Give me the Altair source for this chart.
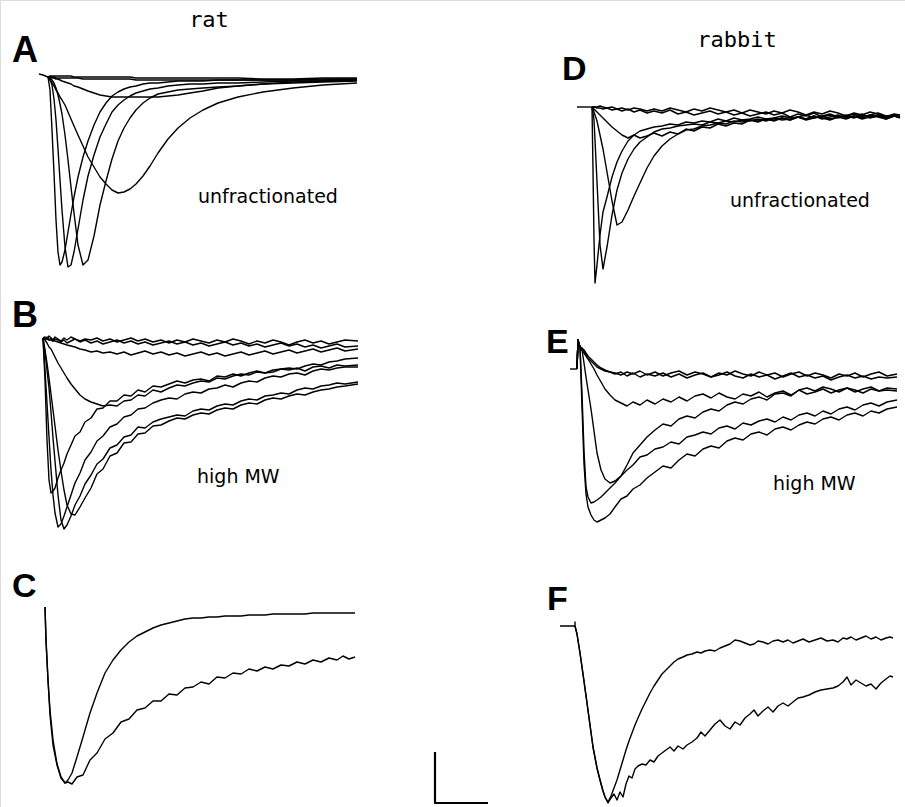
import altair as alt
import pandas as pd

# ---------------- Panel A (rat, unfractionated) ----------------
A_time = [0, 2, 4, 6, 8, 10, 12, 14, 17, 20, 23, 26, 30, 35, 40, 46, 52, 58, 64, 70,
          76, 82, 88, 95, 102, 110, 120, 130, 142, 155, 170, 190, 215, 245, 275, 309]
A1 = [0, -13, -53, -96, -143, -175, -188, -185, -173, -155, -137, -120, -100, -80, -64, -48, -35, -26, -19, -15,
      -12, -10, -9, -7, -6, -6, -5, -4, -4, -4, -3, -3, -3, -3, -2, -2]
A2 = [0, -2, -8, -22, -43, -72, -103, -133, -170, -190, -188, -175, -152, -123, -99, -78, -60, -47, -35, -28,
      -23, -19, -16, -14, -12, -11, -9, -8, -7, -7, -6, -6, -5, -4, -4, -3]
A3 = [0, -1, -3, -6, -11, -18, -27, -37, -58, -83, -110, -136, -168, -188, -183, -159, -128, -104, -82, -64,
      -51, -41, -33, -26, -21, -17, -15, -13, -12, -11, -10, -9, -7, -5, -4, -3]
A4 = [0, -3, -6, -9, -13, -16, -20, -23, -28, -35, -42, -49, -58, -69, -80, -90, -100, -107, -113, -116,
      -115, -112, -107, -99, -89, -76, -62, -51, -41, -33, -26, -20, -15, -11, -8, -6]
A5 = [0, 0, -1, -1, -2, -2, -3, -4, -5, -6, -7, -9, -10, -12, -14, -16, -18, -19, -20, -20,
      -20, -20, -20, -20, -20, -20, -19, -18, -16, -14, -11, -9, -7, -6, -5, -4]
A6 = [0, 0, 0, 0, -1, -1, -1, -1, -1, -1, -1, -1, -1, -2, -2, -2, -2, -2, -2, -2,
      -2, -2, -3, -3, -3, -3, -3, -3, -3, -3, -3, -3, -3, -3, -3, -2]
A7 = [0, 1, 1, 1, 1, 1, 1, 1, 1, 1, 1, 0, 0, 0, 0, 0, 0, 0, 0, 0,
      0, 0, -1, -1, -1, -1, -1, -1, -1, -1, -1, -1, -2, -2, -1, -1]
A_pre_t = [-9, -5, 0]
A_pre_v = [3, 2, 0]

# ---------------- Panel B (rat, high MW) ----------------
B_time = [0, 2, 4, 6, 8, 10, 12, 15, 18, 21, 24, 28, 32, 37, 42, 48, 54, 60, 67, 74,
          81, 88, 95, 102, 110, 118, 126, 134, 142, 150, 158, 166, 174, 182, 190, 198, 206, 214, 222, 230,
          238, 246, 254, 262, 270, 278, 286, 294, 302, 315]
B1 = [0, -42, -102, -142, -155, -153, -150, -140, -132, -125, -116, -107, -98, -94, -84, -80, -71, -70, -63, -63,
      -57, -58, -52, -54, -48, -49, -46, -43, -45, -42, -41, -43, -38, -39, -36, -38, -35, -33, -35, -34,
      -31, -32, -30, -33, -29, -28, -30, -27, -28, -27]
B2 = [0, -32, -65, -99, -132, -157, -175, -189, -186, -178, -169, -157, -145, -135, -122, -114, -103, -98, -89, -86,
      -79, -77, -71, -70, -65, -62, -60, -61, -56, -54, -55, -51, -50, -47, -49, -45, -43, -44, -40, -38,
      -39, -36, -35, -37, -33, -31, -32, -30, -29, -29]
B3 = [0, -14, -32, -50, -74, -100, -123, -157, -182, -191, -187, -178, -167, -158, -146, -137, -126, -121, -110, -107,
      -99, -97, -89, -90, -84, -81, -79, -77, -78, -73, -71, -72, -68, -66, -67, -63, -61, -62, -58, -57,
      -55, -56, -52, -50, -51, -48, -47, -45, -46, -44]
B4 = [0, -12, -25, -40, -56, -72, -88, -112, -133, -152, -167, -176, -177, -169, -160, -150, -136, -131, -118, -115,
      -105, -104, -96, -95, -88, -87, -83, -80, -81, -77, -75, -76, -72, -70, -71, -67, -65, -66, -62, -60,
      -61, -58, -56, -57, -54, -52, -51, -49, -48, -46]
B5 = [0, -2, -5, -9, -11, -15, -19, -25, -30, -35, -40, -46, -51, -57, -61, -64, -66, -68, -67, -68,
      -63, -62, -57, -58, -52, -54, -50, -47, -48, -45, -43, -44, -40, -41, -38, -36, -37, -34, -35, -32,
      -31, -30, -31, -28, -26, -27, -24, -23, -21, -20]
B6 = [0, 1, -1, 2, 0, -2, 1, -1, -3, 0, -2, 1, -1, -3, -1, -2, 0, -3, -1, -4,
      -2, 0, -3, -1, -4, -2, -5, -2, -4, -1, -3, -5, -2, -4, -1, -3, -6, -3, -5, -2,
      -4, -7, -4, -2, -5, -3, -6, -4, -2, -3]
B7 = [0, -1, 1, -2, 0, -3, -1, -2, -4, -2, -5, -3, -1, -4, -2, -5, -3, -6, -4, -2,
      -5, -3, -6, -4, -7, -5, -3, -6, -4, -7, -5, -8, -6, -4, -7, -5, -8, -6, -9, -7,
      -5, -8, -6, -9, -7, -10, -8, -6, -9, -8]
B8 = [0, -1, -1, -2, -2, -3, -3, -4, -5, -6, -7, -8, -9, -11, -12, -14, -13, -15, -14, -16,
      -14, -17, -15, -13, -16, -14, -17, -15, -18, -16, -14, -17, -15, -18, -16, -14, -17, -15, -13, -16,
      -14, -12, -15, -13, -11, -14, -12, -10, -13, -11]

# ---------------- Panel C (rat, comparison) ----------------
C_time = [0, 1, 3, 5, 8, 12, 16, 20, 23, 27, 32, 38, 45, 52, 60, 68, 76, 84, 92, 100,
          108, 116, 124, 132, 140, 148, 156, 164, 172, 180, 188, 196, 204, 212, 220, 228, 236, 244, 252, 260,
          268, 276, 284, 292, 298, 304, 310]
C1 = [0, -33, -73, -108, -138, -158, -171, -176, -173, -166, -150, -130, -106, -86, -66, -53, -43, -35, -29, -25,
      -21, -18, -16, -14, -12, -11, -11, -10, -10, -9, -9, -9, -8, -8, -8, -7, -7, -7, -7, -7,
      -6, -6, -6, -6, -6, -6, -6]
C2 = [0, -33, -73, -103, -133, -157, -170, -176, -175, -177, -170, -168, -153, -146, -132, -126, -115, -112, -103, -101,
      -94, -94, -87, -88, -81, -80, -75, -77, -70, -71, -66, -67, -62, -64, -60, -62, -58, -59, -55, -57,
      -53, -55, -51, -53, -49, -52, -50]

# ---------------- Panel D (rabbit, unfractionated) ----------------
D_time = [0, 1, 2, 3, 5, 8, 11, 15, 20, 25, 30, 36, 42, 48, 55, 62, 70, 78, 86, 94,
          102, 110, 118, 126, 134, 142, 150, 158, 166, 174, 182, 190, 198, 206, 214, 222, 230, 238, 246, 254,
          262, 270, 278, 286, 294, 302, 308]
D1 = [0, -63, -133, -176, -158, -128, -105, -90, -70, -55, -44, -34, -28, -24, -22, -20, -19, -17, -18, -15,
      -16, -14, -15, -12, -14, -11, -13, -12, -10, -12, -11, -9, -11, -10, -8, -11, -9, -7, -10, -9,
      -7, -10, -8, -6, -9, -8, -8]
D2 = [0, -6, -13, -33, -75, -138, -162, -140, -108, -83, -66, -52, -42, -35, -30, -25, -22, -21, -19, -18,
      -17, -18, -15, -16, -14, -15, -13, -14, -12, -14, -11, -13, -12, -10, -13, -11, -9, -12, -10, -9,
      -11, -8, -10, -9, -11, -9, -10]
D3 = [0, -2, -5, -8, -14, -28, -42, -65, -94, -118, -115, -103, -89, -76, -61, -49, -39, -32, -27, -23,
      -22, -19, -18, -16, -17, -14, -15, -13, -14, -12, -13, -11, -13, -10, -12, -9, -12, -10, -8, -11,
      -9, -12, -10, -8, -11, -9, -10]
D4 = [0, -1, -2, -3, -5, -8, -11, -15, -20, -24, -28, -31, -28, -31, -29, -26, -29, -25, -27, -22,
      -24, -20, -21, -17, -19, -16, -17, -13, -15, -12, -14, -11, -13, -10, -12, -9, -11, -13, -10, -12,
      -9, -11, -8, -10, -12, -9, -10]
D5 = [0, 0, 0, 0, 0, 1, 0, -1, 0, -2, -1, -3, -1, -2, -4, -2, -4, -1, -3, -5,
      -2, -4, -1, -3, -5, -3, -6, -3, -5, -7, -4, -6, -3, -5, -8, -5, -7, -4, -6, -9,
      -6, -8, -5, -7, -10, -7, -8]
D6 = [0, 0, 0, 0, -1, -1, -2, -1, -3, -2, -4, -2, -5, -3, -6, -4, -6, -3, -7, -5,
      -8, -6, -4, -7, -5, -8, -6, -9, -7, -5, -8, -6, -10, -7, -9, -6, -10, -8, -11, -8,
      -10, -7, -11, -9, -12, -9, -11]
D_pre_t = [-15, 0]
D_pre_v = [0, 0]

# ---------------- Panel E (rabbit, high MW) ----------------
E_time = [0, 1, 2, 3, 5, 7, 9, 11, 14, 17, 20, 24, 28, 33, 38, 44, 50, 56, 63, 70,
          78, 86, 94, 102, 110, 118, 126, 134, 142, 150, 158, 166, 174, 182, 190, 198, 206, 214, 222, 230,
          238, 246, 254, 262, 270, 278, 286, 294, 302, 310, 320]
E1 = [0, 29, 25, 22, -25, -82, -118, -128, -134, -133, -131, -128, -124, -119, -114, -107, -101, -96, -88, -86,
      -80, -78, -73, -75, -68, -66, -63, -65, -59, -57, -60, -54, -56, -52, -50, -53, -48, -51, -46, -44,
      -47, -42, -45, -40, -38, -41, -36, -34, -37, -33, -31]
E2 = [0, 29, 25, 22, -38, -95, -125, -138, -146, -151, -153, -151, -149, -145, -138, -130, -127, -120, -116, -109,
      -103, -97, -99, -91, -85, -87, -80, -77, -79, -72, -69, -71, -65, -63, -66, -60, -58, -61, -56, -53,
      -55, -50, -48, -51, -46, -44, -47, -42, -44, -40, -38]
E3 = [0, 29, 25, 22, 19, 6, -8, -21, -40, -62, -84, -101, -110, -114, -112, -107, -96, -84, -76, -68,
      -61, -55, -57, -50, -47, -49, -43, -40, -42, -36, -33, -35, -30, -28, -31, -25, -24, -27, -21, -19,
      -22, -18, -20, -23, -19, -21, -24, -20, -22, -21, -22]
E4 = [0, 29, 25, 22, 19, 16, 13, 10, 5, 0, -6, -13, -20, -26, -31, -34, -37, -33, -36, -31,
      -35, -30, -33, -28, -32, -27, -25, -29, -24, -28, -30, -25, -27, -23, -28, -24, -22, -26, -21, -25,
      -23, -20, -24, -21, -19, -23, -20, -18, -22, -19, -20]
E5 = [0, 29, 25, 22, 20, 17, 14, 11, 8, 5, 2, 0, -2, -3, -4, -6, -3, -5, -2, -6,
      -3, -7, -4, -2, -6, -3, -5, -8, -4, -6, -2, -5, -7, -3, -6, -4, -8, -5, -3, -7,
      -4, -6, -9, -5, -7, -4, -8, -5, -3, -7, -5]
E6 = [0, 29, 25, 22, 21, 19, 16, 13, 10, 7, 4, 1, -1, -3, -5, -3, -7, -4, -8, -5,
      -7, -4, -8, -5, -9, -6, -4, -8, -6, -3, -7, -9, -5, -8, -6, -10, -7, -4, -8, -6,
      -9, -7, -11, -8, -6, -9, -7, -10, -8, -9, -8]
E_pre_t = [-7, 0]
E_pre_v = [0, 0]

# ---------------- Panel F (rabbit, comparison) ----------------
F_time = [0, 2, 5, 8, 12, 15, 18, 22, 25, 28, 30, 33, 36, 39, 42, 45, 48, 51, 54, 57,
          60, 63, 67, 71, 75, 79, 83, 87, 91, 95, 99, 103, 108, 112, 117, 122, 126, 130, 135, 140,
          145, 150, 155, 160, 165, 170, 175, 179, 183, 188, 193, 198, 203, 208, 213, 218, 223, 228, 234, 240,
          246, 252, 258, 263, 268, 272, 276, 281, 286, 291, 296, 301, 306, 311, 315, 318]
F1 = [0, -8, -27, -48, -77, -99, -121, -142, -154, -165, -171, -176, -170, -162, -154, -144, -134, -124, -115, -107,
      -99, -92, -83, -75, -67, -60, -54, -48, -44, -40, -36, -33, -31, -29, -28, -26, -27, -25, -24, -25,
      -22, -20, -18, -14, -15, -17, -19, -18, -15, -16, -18, -15, -14, -16, -14, -17, -15, -13, -16, -14,
      -12, -15, -14, -16, -12, -13, -11, -14, -12, -10, -13, -11, -14, -12, -11, -12]
F2 = [0, -8, -27, -48, -77, -99, -121, -142, -154, -165, -171, -177, -172, -168, -174, -166, -171, -158, -150, -152,
      -143, -140, -138, -139, -134, -136, -130, -127, -124, -121, -125, -120, -123, -119, -116, -112, -106, -110, -104, -98,
      -94, -100, -103, -96, -99, -92, -88, -84, -90, -85, -81, -86, -80, -77, -80, -76, -72, -71, -69, -66,
      -64, -63, -62, -60, -56, -51, -59, -54, -57, -60, -58, -63, -57, -53, -50, -51]
F_pre_t = [-15, 0, 0, 0]
F_pre_v = [0, 0, 4, 0]

# calibration bar
bar_t = [0, 0, 53]
bar_v = [51, 0, 0]


def frame(time, traces):
    rows = []
    for name, vals in traces.items():
        for i, (t, v) in enumerate(zip(time, vals)):
            rows.append({"trace": name, "i": i, "t": t, "v": v})
    return rows


def panel(rows, x0, y0, width=1.4):
    df = pd.DataFrame(rows)
    tmin, tmax = float(df.t.min()), float(df.t.max())
    vmin, vmax = float(df.v.min()), float(df.v.max())
    return alt.Chart(df).mark_line(color="black", strokeWidth=width, strokeJoin="round").encode(
        x=alt.X("t:Q", axis=None,
                scale=alt.Scale(domain=[tmin, tmax], range=[x0 + tmin, x0 + tmax], nice=False, zero=False)),
        y=alt.Y("v:Q", axis=None,
                scale=alt.Scale(domain=[vmin, vmax], range=[y0 - vmin, y0 - vmax], nice=False, zero=False)),
        detail="trace:N",
        order="i:Q",
    )


rowsA = frame(A_time, {"a1": A1, "a2": A2, "a3": A3, "a4": A4, "a5": A5, "a6": A6, "a7": A7}) + \
    frame(A_pre_t, {"apre": A_pre_v})
rowsB = frame(B_time, {"b1": B1, "b2": B2, "b3": B3, "b4": B4, "b5": B5, "b6": B6, "b7": B7, "b8": B8})
rowsC = frame(C_time, {"c1": C1, "c2": C2})
rowsD = frame(D_time, {"d1": D1, "d2": D2, "d3": D3, "d4": D4, "d5": D5, "d6": D6}) + \
    frame(D_pre_t, {"dpre": D_pre_v})
rowsE = frame(E_time, {"e1": E1, "e2": E2, "e3": E3, "e4": E4, "e5": E5, "e6": E6}) + \
    frame(E_pre_t, {"epre": E_pre_v})
rowsF = frame(F_time, {"f1": F1, "f2": F2}) + frame(F_pre_t, {"fpre": F_pre_v})
rowsBar = frame(bar_t, {"bar": bar_v})

layers = [
    panel(rowsA, 48, 77),
    panel(rowsB, 43, 338),
    panel(rowsC, 45, 607),
    panel(rowsD, 592, 107),
    panel(rowsE, 577, 369),
    panel(rowsF, 575, 626),
    panel(rowsBar, 435, 803, width=2.2),
]

one = alt.Data(values=[{}])


def label(text, x, y, size, font, weight="normal", align="left"):
    return alt.Chart(one).mark_text(
        text=text, fontSize=size, font=font, fontWeight=weight, align=align,
        baseline="alphabetic", color="black",
    ).encode(x=alt.value(x), y=alt.value(y))


mono = "DejaVu Sans Mono"
sans = "DejaVu Sans"
heavy = "Liberation Sans"

texts = [
    label("rat", 209, 27, 22, mono, align="center"),
    label("rabbit", 737, 47, 22, mono, align="center"),
    label("A", 12, 62, 36, heavy, "bold"),
    label("B", 12, 327, 36, heavy, "bold"),
    label("C", 12, 597, 34, heavy, "bold"),
    label("D", 562, 80, 34, heavy, "bold"),
    label("E", 546, 353, 34, heavy, "bold"),
    label("F", 547, 610, 34, heavy, "bold"),
    label("unfractionated", 198, 203, 19, sans),
    label("unfractionated", 730, 207, 19, sans),
    label("high MW", 197, 483, 19, sans),
    label("high MW", 773, 490, 19, sans),
]

chart = alt.layer(*layers, *texts).resolve_scale(
    x="independent", y="independent"
).properties(
    width=905, height=807, padding=0, autosize=alt.AutoSizeParams(type="none")
).configure_view(stroke=None).configure(background="white")

chart.save("out.html", embed_options={"renderer": "svg", "actions": False})
